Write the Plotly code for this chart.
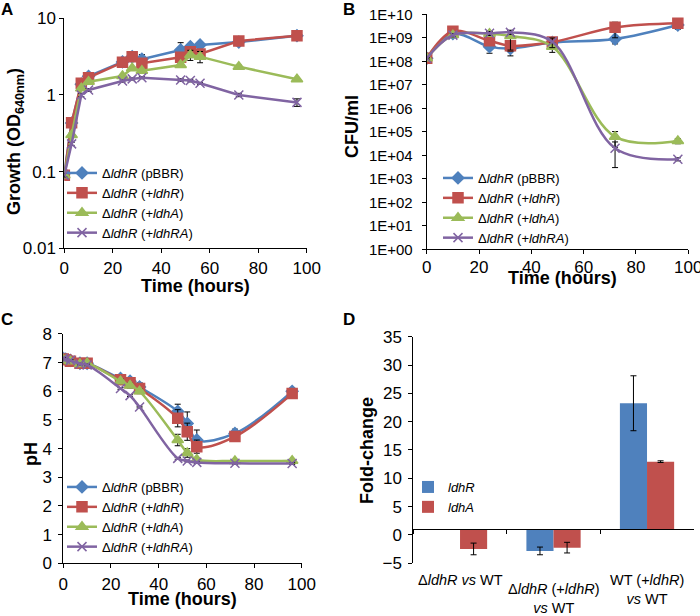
import plotly.graph_objects as go

# ---- data -------------------------------------------------------------
legend_names = [
    "Δ<i>ldhR</i> (pBBR)",
    "Δ<i>ldhR</i> (+<i>ldhR</i>)",
    "Δ<i>ldhR</i> (+<i>ldhA</i>)",
    "Δ<i>ldhR</i> (+<i>ldhRA</i>)",
]

# A: growth (OD640)
growth_time = [0, 3, 7, 10, 24, 28, 32, 48, 52, 56, 72, 96]
growth_pbbr = [0.095, 0.43, 1.38, 1.75, 2.7, 3.15, 2.92, 3.86, 4.26, 4.49, 4.9, 5.94]
growth_ldhr = [0.09, 0.435, 1.42, 1.68, 2.67, 3.16, 2.59, 3.1, 3.67, 3.42, 5.06, 5.93]
growth_ldha = [0.09, 0.3, 1.22, 1.49, 1.77, 2.23, 2.07, 2.46, 3.32, 3.16, 2.34, 1.6]
growth_ldhra = [0.09, 0.23, 1.0, 1.16, 1.52, 1.62, 1.68, 1.57, 1.54, 1.42, 1.0, 0.8]
growth_err_pbbr = [0.005, 0.02, 0.05, 0.05, 0.1, 0.1, 0.45, 0.95, 0.3, 0.2, 0.3, 0.2]
growth_err_ldhr = [0.005, 0.02, 0.05, 0.05, 0.1, 0.15, 0.15, 0.3, 0.6, 0.4, 0.2, 0.2]
growth_err_ldha = [0.005, 0.02, 0.05, 0.05, 0.05, 0.1, 0.1, 0.1, 0.5, 0.53, 0.1, 0.05]
growth_err_ldhra = [0.005, 0.01, 0.05, 0.05, 0.05, 0.05, 0.05, 0.06, 0.06, 0.04, 0.05, 0.09]

# B: viable counts (CFU/ml)
cfu_time = [0, 10, 24, 32, 48, 72, 96]
cfu_pbbr = [1.35e8, 1.5e9, 4.2e8, 3.5e8, 6.3e8, 8.9e8, 3.5e9]
cfu_ldhr = [1.35e8, 1.9e9, 7.5e8, 4.6e8, 6.6e8, 2.8e9, 4.2e9]
cfu_ldha = [1.35e8, 1.3e9, 1.5e9, 1.2e9, 4.2e8, 6.2e4, 4.1e4]
cfu_ldhra = [1.35e8, 1.3e9, 1.55e9, 1.7e9, 6.8e8, 2.0e4, 6.8e3]
cfu_err_pbbr = [1e7, 2e8, 2e8, 1.8e8, 3e8, 3.4e8, 1.2e9]
cfu_err_ldhr = [1e7, 3e8, 2e8, 2e8, 2e8, 1.8e9, 8e8]
cfu_err_ldha = [1e7, 2e8, 3e8, 9e8, 1.8e8, 4e4, 1e4]
cfu_err_ldhra = [1e7, 2e8, 3e8, 3e8, 3e8, 1.7e4, 1e3]

# C: pH
ph_time = [0, 1, 3, 7, 10, 24, 28, 32, 48, 52, 56, 72, 96]
ph_pbbr = [7.15, 7.12, 7.08, 6.98, 6.98, 6.45, 6.35, 6.15, 5.3, 4.88, 4.3, 4.53, 6.0]
ph_ldhr = [7.13, 7.1, 7.05, 6.98, 6.98, 6.4, 6.3, 6.1, 5.06, 4.59, 4.07, 4.42, 5.92]
ph_ldha = [7.1, 7.08, 7.05, 6.95, 6.98, 6.35, 6.2, 6.0, 4.3, 3.85, 3.62, 3.57, 3.58]
ph_ldhra = [7.15, 7.12, 7.08, 6.95, 6.92, 6.1, 5.85, 5.45, 3.66, 3.57, 3.52, 3.49, 3.48]
ph_err_pbbr = [0.05, 0.05, 0.05, 0.05, 0.05, 0.08, 0.1, 0.15, 0.25, 0.4, 0.35, 0.15, 0.1]
ph_err_ldhr = [0.05, 0.05, 0.05, 0.05, 0.05, 0.08, 0.1, 0.1, 0.3, 0.3, 0.23, 0.1, 0.1]
ph_err_ldha = [0.05, 0.05, 0.05, 0.05, 0.05, 0.08, 0.08, 0.08, 0.2, 0.15, 0.05, 0.05, 0.05]
ph_err_ldhra = [0.03] * 13

# D: qRT-PCR fold change
fold_categories = ["dldhR vs WT", "dldhR(+ldhR) vs WT", "WT(+ldhR) vs WT"]
fold_labels = [
    "Δ<i>ldhR</i> <i>vs</i> WT",
    "Δ<i>ldhR</i> (+<i>ldhR</i>)<br><i>vs</i> WT",
    "WT (+<i>ldhR</i>)<br><i>vs</i> WT",
]
fold_ldhr = [None, -2.82, 23.25]
fold_ldha = [-2.47, -2.24, 12.94]
fold_err_ldhr = [0, 0.68, 4.85]
fold_err_ldha = [1.03, 0.94, 0.15]
fold_baseline = 1

colors = ["#4F81BD", "#C0504D", "#9BBB59", "#8064A2"]
symbols = ["diamond", "square", "triangle-up", "x-thin-open"]
sizes = [9, 10, 10, 9]

FONT = "Liberation Sans, Arial, sans-serif"
W, H = 700, 616


def px_x(v):
    return v / W


def px_y(v):
    return 1 - v / H


fig = go.Figure()

panels = [
    ("x", "y", "legend", growth_time,
     [growth_pbbr, growth_ldhr, growth_ldha, growth_ldhra],
     [growth_err_pbbr, growth_err_ldhr, growth_err_ldha, growth_err_ldhra], "linear"),
    ("x2", "y2", "legend2", cfu_time,
     [cfu_pbbr, cfu_ldhr, cfu_ldha, cfu_ldhra],
     [cfu_err_pbbr, cfu_err_ldhr, cfu_err_ldha, cfu_err_ldhra], "spline"),
    ("x3", "y3", "legend3", ph_time,
     [ph_pbbr, ph_ldhr, ph_ldha, ph_ldhra],
     [ph_err_pbbr, ph_err_ldhr, ph_err_ldha, ph_err_ldhra], "spline"),
]

for xa, ya, leg, t, series, errs, shape in panels:
    for i in range(4):
        fig.add_trace(go.Scatter(
            x=t, y=series[i], name=legend_names[i], xaxis=xa, yaxis=ya,
            legend=leg, mode="lines+markers",
            line=dict(color=colors[i], width=2.5, shape=shape),
            marker=dict(symbol=symbols[i], size=sizes[i], color=colors[i],
                        line=dict(color=colors[i], width=1.5)),
            error_y=dict(type="data", array=errs[i], color="black",
                         thickness=1, width=3),
        ))

fig.add_trace(go.Bar(
    x=fold_categories, y=[None if v is None else v - fold_baseline for v in fold_ldhr],
    base=fold_baseline, name="<i>ldhR</i>", marker_color=colors[0],
    xaxis="x4", yaxis="y4", legend="legend4",
    error_y=dict(type="data", array=fold_err_ldhr, color="black", thickness=1, width=3),
))
fig.add_trace(go.Bar(
    x=fold_categories, y=[v - fold_baseline for v in fold_ldha],
    base=fold_baseline, name="<i>ldhA</i>", marker_color=colors[1],
    xaxis="x4", yaxis="y4", legend="legend4",
    error_y=dict(type="data", array=fold_err_ldha, color="black", thickness=1, width=3),
))


def tickfont(size):
    return dict(family=FONT, size=size, color="black")


axis_common = dict(showline=True, linecolor="black", linewidth=1, ticks="outside",
                   ticklen=4, tickcolor="black", showgrid=False, zeroline=False,
                   automargin=False, ticklabeloverflow="allow")

fig.update_layout(
    template="none",
    width=W, height=H, margin=dict(l=0, r=0, t=0, b=0, pad=0),
    plot_bgcolor="white", paper_bgcolor="white",
    font=dict(family=FONT, color="black"),
    barmode="group", bargap=0.42, bargroupgap=0,
    xaxis=dict(domain=[0.0919, 0.4381], range=[0, 100], dtick=20, anchor="y",
               ticklabelstandoff=0, tickfont=tickfont(17), **axis_common),
    yaxis=dict(domain=[0.5969, 0.9703], type="log", range=[-2, 1], anchor="x",
               tickvals=[0.01, 0.1, 1, 10], ticktext=["0.01", "0.1", "1", "10"],
               tickfont=tickfont(17), **axis_common),
    xaxis2=dict(domain=[0.6096, 0.9833], range=[0, 100], dtick=20, anchor="y2",
                ticklabelstandoff=-2, tickfont=tickfont(17), **axis_common),
    yaxis2=dict(domain=[0.5953, 0.9768], type="log", range=[0, 10], anchor="x2",
                tickvals=[10 ** k for k in range(11)],
                ticktext=[f"1E+{k:02d}" for k in range(11)],
                ticklabelstandoff=6, tickfont=tickfont(15), **axis_common),
    xaxis3=dict(domain=[0.0904, 0.4310], range=[0, 100], dtick=20, anchor="y3",
                ticklabelstandoff=1, tickfont=tickfont(17), **axis_common),
    yaxis3=dict(domain=[0.0856, 0.4578], range=[0, 8], dtick=1, anchor="x3",
                ticklabelstandoff=3, tickfont=tickfont(17), **axis_common),
    xaxis4=dict(domain=[0.5904, 0.9911], anchor="free", position=px_y(529.3),
                showline=True, linecolor="black", linewidth=1, ticks="outside",
                ticklen=4, tickcolor="black", tickson="boundaries",
                showticklabels=False, showgrid=False, zeroline=False,
                automargin=False, range=[-0.5, 2.5]),
    yaxis4=dict(domain=[0.0856, 0.4534], range=[-5, 35], dtick=5, anchor="x4",
                ticklabelstandoff=3, tickfont=tickfont(17), **axis_common),
)

legend_common = dict(bgcolor="rgba(0,0,0,0)", borderwidth=0, itemwidth=30,
                     font=dict(family=FONT, size=13, color="black"),
                     xanchor="left", yanchor="top", tracegroupgap=0)
fig.update_layout(
    legend=dict(x=px_x(62), y=px_y(158), **legend_common),
    legend2=dict(x=px_x(438), y=px_y(163), **legend_common),
    legend3=dict(x=px_x(62), y=px_y(472), **legend_common),
    legend4=dict(x=px_x(408), y=px_y(472), **legend_common),
)

annotations = []
# panel letters
for letter, x, y in [("A", 7, 9), ("B", 349, 9), ("C", 7, 320), ("D", 349, 320)]:
    annotations.append(dict(text=f"<b>{letter}</b>", x=px_x(x), y=px_y(y), xref="paper",
                            yref="paper", showarrow=False, xanchor="center",
                            yanchor="middle",
                            font=dict(family=FONT, size=17, color="black")))
# axis titles
title_font = dict(family=FONT, size=18, color="black")
for text, x, y, angle in [
    ("Growth (OD<sub>640nm</sub>)", 15, 142, -90),
    ("CFU/ml", 352, 127, -90),
    ("pH", 31, 454, -90),
    ("Fold-change", 367, 450, -90),
    ("Time (hours)", 195, 286, 0),
    ("Time (hours)", 562, 278, 0),
    ("Time (hours)", 182, 599, 0),
]:
    annotations.append(dict(text=f"<b>{text}</b>", x=px_x(x), y=px_y(y), xref="paper",
                            yref="paper", showarrow=False, textangle=angle,
                            xanchor="center", yanchor="middle", font=title_font))
# category labels for panel D
for cat, label, y in zip(fold_categories, fold_labels, [580, 598.5, 589]):
    annotations.append(dict(text=label, x=cat, xref="x4", y=px_y(y), yref="paper",
                            showarrow=False, xanchor="center", yanchor="middle",
                            font=dict(family=FONT, size=14.5, color="black")))
fig.update_layout(annotations=annotations)

fig.write_html("out.html", config={"displayModeBar": False},
               post_script="document.body.style.margin='0';")
